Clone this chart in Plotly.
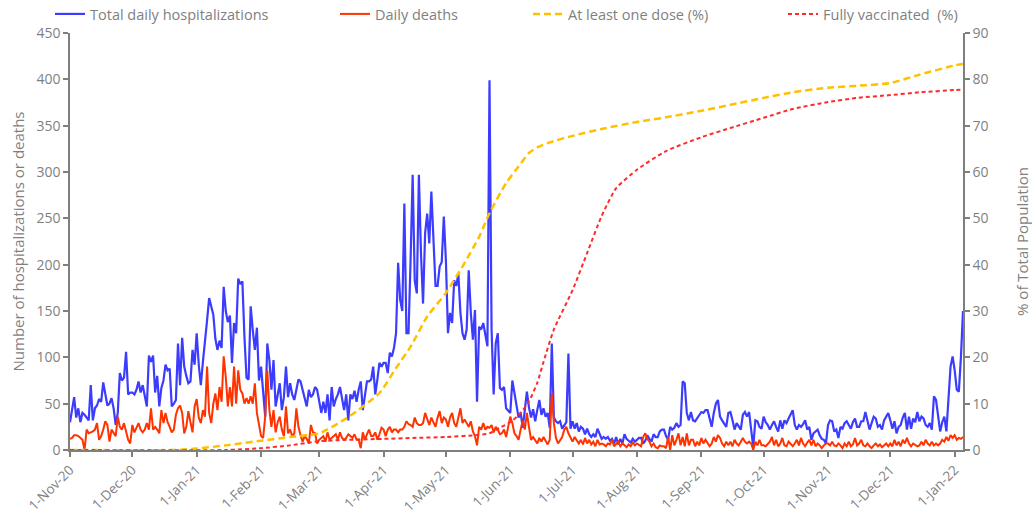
import plotly.graph_objects as go
import pandas as pd

# ---------------- data ----------------
month_starts = ["2020-11-01", "2020-12-01", "2021-01-01", "2021-02-01", "2021-03-01",
                "2021-04-01", "2021-05-01", "2021-06-01", "2021-07-01", "2021-08-01",
                "2021-09-01", "2021-10-01", "2021-11-01", "2021-12-01", "2022-01-01"]

hosp_2020_11 = [30,45,57,35,45,30,40,38,35,32,70,32,45,48,55,52,73,62,48,50,56,45,27,40,83,75,78,106,60,62]
hosp_2020_12 = [62,60,65,74,62,70,60,47,102,95,102,62,80,47,67,75,92,86,88,47,50,54,115,70,121,90,80,72,74,108,92]
hosp_2021_01 = [126,92,70,95,122,140,164,155,146,120,108,118,110,176,150,138,145,94,137,126,185,179,182,122,78,76,155,130,108,132,75]
hosp_2021_02 = [90,60,36,115,97,65,97,47,60,72,43,57,90,57,72,60,54,65,76,74,65,57,47,65,57,60,68,65]
hosp_2021_03 = [50,40,52,40,60,32,68,47,55,60,68,57,43,60,32,60,55,64,52,65,74,43,60,74,74,76,90,60,76,94,90]
hosp_2021_04 = [94,94,83,105,101,110,126,202,162,150,266,126,126,205,297,183,169,297,212,158,234,255,223,279,223,177,177,198,203,252]
hosp_2021_05 = [205,126,148,137,183,177,190,148,126,119,130,194,148,119,151,52,133,130,137,123,112,399,130,60,115,126,67,65,68,45,42]
hosp_2021_06 = [40,75,60,50,35,40,24,43,63,46,35,44,31,43,54,38,45,36,40,24,115,35,31,29,31,23,27,30,104,23]
hosp_2021_07 = [31,23,29,20,25,23,17,23,17,14,17,14,23,17,12,14,12,14,10,12,7,14,6,12,7,17,12,10,8,12,9]
hosp_2021_08 = [11,13,13,7,10,16,12,9,17,14,14,20,22,22,15,11,25,22,24,29,25,27,74,72,40,32,41,32,31,34,38]
hosp_2021_09 = [41,40,43,43,32,25,40,50,54,36,32,28,25,40,41,32,22,29,26,22,38,41,36,41,22,3,32,31,25,23]
hosp_2021_10 = [36,30,27,22,27,31,25,20,32,23,32,29,34,38,43,27,22,27,25,28,32,22,25,11,18,20,22,16,12,11,7]
hosp_2021_11 = [27,32,31,20,22,13,25,23,29,31,27,23,30,34,25,25,31,31,41,30,22,29,36,34,25,27,22,32,36,40]
hosp_2021_12 = [32,23,31,18,25,27,35,40,22,36,23,34,30,41,31,36,34,27,25,29,22,58,54,36,20,30,36,20,61,90,101]
hosp_2022_01 = [86,65,63,100,150]

deaths_2020_11 = [12,13,16,16,15,13,11,0,22,18,19,20,22,29,11,15,22,31,27,9,22,18,15,36,25,22,29,20,11,7]
deaths_2020_12 = [27,19,25,29,22,19,22,29,22,45,22,25,22,18,43,29,40,30,25,19,22,38,45,48,40,18,25,42,30,19,47]
deaths_2021_01 = [55,35,29,43,36,90,40,29,50,61,43,68,52,101,79,47,68,47,90,50,86,65,61,50,56,50,58,50,72,40,29]
deaths_2021_02 = [15,13,36,86,43,25,43,19,30,36,22,15,47,18,22,15,18,45,25,16,9,15,12,7,27,19,18,7]
deaths_2021_03 = [11,13,15,9,19,11,13,15,17,11,19,13,11,13,17,15,13,17,11,11,2,19,11,17,22,15,15,19,11,17,24]
deaths_2021_04 = [22,15,22,25,19,22,22,19,22,22,25,31,28,27,25,35,29,27,27,29,40,33,27,35,30,25,35,42,29,35]
deaths_2021_05 = [33,25,35,40,29,25,35,45,29,33,29,25,31,20,15,5,25,22,29,22,25,24,27,19,25,22,17,18,22,14,25]
deaths_2021_06 = [36,29,18,15,11,22,32,22,40,25,11,14,10,7,13,9,14,10,6,11,61,29,13,7,11,14,22,25,18,14]
deaths_2021_07 = [9,14,10,7,11,6,13,7,11,6,9,4,11,6,7,6,4,7,6,11,4,7,9,4,7,5,3,6,4,8,5]
deaths_2021_08 = [7,5,4,14,18,12,9,4,7,3,2,5,4,4,2,14,0,16,5,11,18,5,14,4,18,5,11,11,4,9,5]
deaths_2021_09 = [13,7,11,8,4,7,14,9,16,13,7,4,9,5,9,4,11,7,5,9,13,9,7,9,7,0,9,5,11,5]
deaths_2021_10 = [5,4,7,9,14,5,11,4,7,13,5,4,9,6,4,7,11,5,13,7,4,8,11,5,11,4,7,5,2,5,7]
deaths_2021_11 = [7,5,9,5,4,7,5,2,7,4,9,4,6,13,5,7,11,5,4,7,4,2,5,7,4,6,3,5,7,4]
deaths_2021_12 = [7,4,11,5,9,4,11,7,13,7,4,7,5,4,5,9,5,11,7,5,9,5,7,5,7,11,9,14,10,16,13]
deaths_2022_01 = [16,11,13,12,14]

dose_dates = ["2020-11-01","2020-12-20","2021-01-01","2021-01-15","2021-02-01","2021-02-15",
              "2021-03-01","2021-03-15","2021-03-30","2021-04-07","2021-04-14","2021-04-22",
              "2021-05-01","2021-05-09","2021-05-17","2021-05-22","2021-05-30","2021-06-05",
              "2021-06-10","2021-06-14","2021-06-20","2021-07-01","2021-07-15","2021-08-01",
              "2021-08-15","2021-09-01","2021-09-15","2021-10-01","2021-10-15","2021-11-01",
              "2021-11-15","2021-12-01","2021-12-15","2022-01-01","2022-01-05"]
dose_pct = [0,0,0.3,1.0,2.0,2.8,3.6,7.1,12.3,17.7,22.3,28.8,33.9,39.6,46.0,51.1,57.6,61.2,
            64.1,65.3,66.4,67.8,69.3,70.8,71.8,73.2,74.5,76.0,77.2,78.2,78.6,79.2,81.0,83.0,83.3]

full_dates = ["2020-11-01","2021-01-15","2021-02-01","2021-02-15","2021-03-01","2021-03-15",
              "2021-04-01","2021-04-15","2021-05-01","2021-05-15","2021-05-22","2021-05-27",
              "2021-06-01","2021-06-05","2021-06-10","2021-06-14","2021-06-17","2021-06-22",
              "2021-07-01","2021-07-08","2021-07-15","2021-07-22","2021-08-01","2021-08-15",
              "2021-09-01","2021-09-15","2021-10-01","2021-10-15","2021-11-01","2021-11-15",
              "2021-12-01","2021-12-15","2022-01-01","2022-01-05"]
full_pct = [0,0,0.4,1.0,1.9,2.2,2.4,2.6,2.8,3.2,3.6,4.8,6.0,7.5,10.5,14.5,19.0,26.0,
            34.5,42.5,50.5,56.5,60.5,64.5,67.5,69.5,71.7,73.6,75.1,76.0,76.6,77.2,77.7,77.8]

hosp_months = [hosp_2020_11, hosp_2020_12, hosp_2021_01, hosp_2021_02, hosp_2021_03, hosp_2021_04,
               hosp_2021_05, hosp_2021_06, hosp_2021_07, hosp_2021_08, hosp_2021_09, hosp_2021_10,
               hosp_2021_11, hosp_2021_12, hosp_2022_01]
deaths_months = [deaths_2020_11, deaths_2020_12, deaths_2021_01, deaths_2021_02, deaths_2021_03,
                 deaths_2021_04, deaths_2021_05, deaths_2021_06, deaths_2021_07, deaths_2021_08,
                 deaths_2021_09, deaths_2021_10, deaths_2021_11, deaths_2021_12, deaths_2022_01]


def daily_series(starts, months):
    xs, ys = [], []
    for s, vals in zip(starts, months):
        xs.extend(pd.date_range(s, periods=len(vals), freq="D"))
        ys.extend(vals)
    return xs, ys


hx, hy = daily_series(month_starts, hosp_months)
dx, dy = daily_series(month_starts, deaths_months)

GRAY = "#7f7f7f"
FONT = "Open Sans"

fig = go.Figure()
fig.add_trace(go.Scatter(x=hx, y=hy, mode="lines", name="Total daily hospitalizations",
                         line=dict(color="#3c3cff", width=2.2), legend="legend"))
fig.add_trace(go.Scatter(x=dx, y=dy, mode="lines", name="Daily deaths",
                         line=dict(color="#ff3300", width=2.0), legend="legend2"))
fig.add_trace(go.Scatter(x=dose_dates, y=dose_pct, mode="lines", name="At least one dose (%)",
                         line=dict(color="#ffc000", width=2.5, dash="7px,4px", shape="spline",
                                   smoothing=0.6),
                         yaxis="y2", legend="legend3"))
fig.add_trace(go.Scatter(x=full_dates, y=full_pct, mode="lines", name="Fully vaccinated\u00a0 (%)",
                         line=dict(color="#ff2b2b", width=2.0, dash="4px,3px", shape="spline",
                                   smoothing=0.6),
                         yaxis="y2", legend="legend4"))

def leg(px):
    return dict(x=(px - 70) / 893, y=(450 - 14) / 417, xanchor="left", yanchor="middle",
                orientation="h", bgcolor="rgba(0,0,0,0)", borderwidth=0,
                font=dict(family=FONT, size=14.5, color=GRAY))

fig.update_layout(
    width=1032, height=516,
    margin=dict(l=70, r=69, t=33, b=66, autoexpand=False),
    paper_bgcolor="white", plot_bgcolor="white",
    font=dict(family=FONT, size=14, color=GRAY),
    showlegend=True,
    legend=leg(50), legend2=leg(335), legend3=leg(528), legend4=leg(783),
    xaxis=dict(range=["2020-11-01", "2022-01-05"], type="date",
               tick0="2020-11-01", dtick="M1", tickformat="%-d-%b-%y", tickangle=-45,
               showgrid=False, zeroline=False, showline=True, linecolor=GRAY, linewidth=1.5,
               ticks="outside", ticklen=5, tickcolor=GRAY, tickwidth=1.5,
               tickfont=dict(family=FONT, size=13.5, color=GRAY)),
    yaxis=dict(range=[0, 450], dtick=50, showgrid=False, zeroline=False,
               showline=True, linecolor=GRAY, linewidth=1.5,
               ticks="outside", ticklen=5, tickcolor=GRAY, tickwidth=1.5,
               tickfont=dict(family=FONT, size=14, color=GRAY),
               title=dict(text="Number of hospitalizations or deaths",
                          font=dict(family=FONT, size=15, color=GRAY), standoff=8)),
    yaxis2=dict(range=[0, 90], dtick=10, overlaying="y", side="right",
                showgrid=False, zeroline=False, showline=True, linecolor=GRAY, linewidth=1.5,
                ticks="outside", ticklen=5, tickcolor=GRAY, tickwidth=1.5,
                tickfont=dict(family=FONT, size=14, color=GRAY),
                title=dict(text="% of Total Population",
                           font=dict(family=FONT, size=15, color=GRAY), standoff=30)),
)

fig.write_html("out.html", config={"displayModeBar": False},
               post_script="document.body.style.margin='0px';document.body.style.overflow='hidden';")
